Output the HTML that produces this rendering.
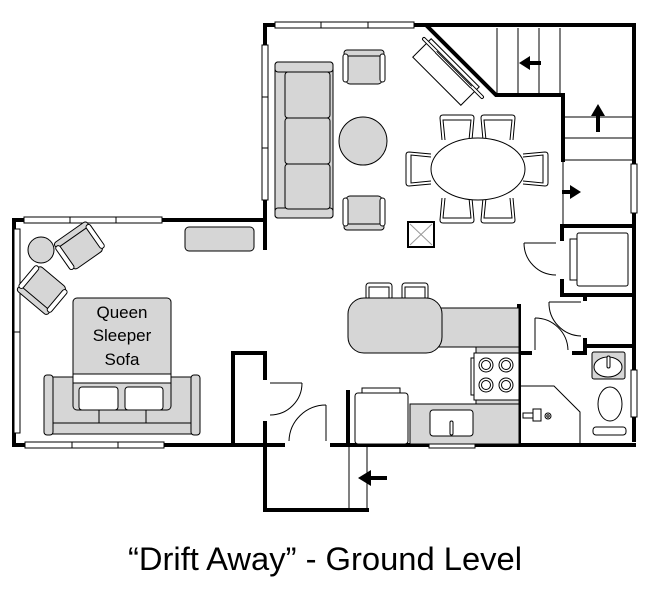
<!DOCTYPE html>
<html><head><meta charset="utf-8"><style>
html,body{margin:0;padding:0;background:#fff;}
svg{display:block;}
</style></head><body>
<svg width="650" height="598" viewBox="0 0 650 598" xmlns="http://www.w3.org/2000/svg">
<defs>
<g id="chair">
 <rect x="-18" y="-14" width="36" height="30" rx="4" fill="#d6d6d6" stroke="#000" stroke-width="1"/>
 <rect x="-20" y="-18" width="40" height="6" rx="3" fill="#d6d6d6" stroke="#000" stroke-width="1"/>
 <rect x="-21" y="-14" width="5" height="28" rx="2.5" fill="#fff" stroke="#000" stroke-width="1"/>
 <rect x="16" y="-14" width="5" height="28" rx="2.5" fill="#fff" stroke="#000" stroke-width="1"/>
</g>
<g id="dchair">
 <path d="M-15,12 L-17,-10 Q-17,-13 -14,-13 L14,-13 Q17,-13 17,-10 L15,12" fill="#fff" stroke="#000" stroke-width="1"/>
 <path d="M-12,12 L-14,-8 L14,-8 L12,12" fill="none" stroke="#000" stroke-width="1"/>
</g>
</defs>

<g stroke="#000" stroke-width="1" fill="none">
 <line x1="497" y1="28" x2="497" y2="95"/>
 <line x1="518" y1="28" x2="518" y2="95"/>
 <line x1="539" y1="28" x2="539" y2="95"/>
 <line x1="560" y1="28" x2="560" y2="95"/>
 <line x1="563" y1="117" x2="634" y2="117"/>
 <line x1="563" y1="138" x2="634" y2="138"/>
 <line x1="563" y1="160" x2="634" y2="160"/>
 <line x1="563" y1="160" x2="563" y2="226"/>
 <line x1="349" y1="444" x2="349" y2="510"/>
 <line x1="367" y1="444" x2="367" y2="510"/>
 <line x1="524" y1="243" x2="556" y2="243"/>
 <path d="M524,243 A32,32 0 0 0 556,275"/>
 <line x1="549" y1="302" x2="581" y2="302"/>
 <path d="M549,302 A33,33 0 0 0 581,336"/>
 <line x1="535" y1="318" x2="535" y2="350"/>
 <path d="M535,318 A33,33 0 0 1 568,350"/>
 <line x1="270" y1="383" x2="302" y2="383"/>
 <path d="M302,383 A32,32 0 0 1 270,415"/>
 <line x1="326" y1="405" x2="326" y2="441"/>
 <path d="M326,405 A37,37 0 0 0 289,441"/>
 <path d="M521,386 L554,386 L580,412 L580,444"/>
</g>

<g fill="#000">
 <rect x="528" y="61" width="13" height="4"/><polygon points="519,63 530,56 530,70"/>
 <rect x="596" y="115" width="4" height="17"/><polygon points="598,104 591,116 605,116"/>
 <rect x="562" y="190" width="12" height="4"/><polygon points="581,192 570,185 570,199"/>
 <rect x="371" y="476" width="16" height="4"/><polygon points="358,478 371,470 371,486"/>
</g>

<g stroke="#000" stroke-width="4" fill="none" stroke-linecap="square">
 <path d="M265,248 L265,25 L634,25 L634,440"/>
 <path d="M428,27 L496,95 L563,95 L563,160"/>
 <path d="M14,445 L14,220 L265,220"/>
 <path d="M14,445 L283,445"/>
 <path d="M332,445 L634,445"/>
 <path d="M233,445 L233,353 L265,353 L265,378"/>
 <path d="M265,423 L265,510 L367,510"/>
 <path d="M348,392 L348,445"/>
 <path d="M563,226 L634,226"/>
 <path d="M562,226 L562,239"/>
 <path d="M562,281 L562,295 L634,295"/>
 <path d="M519,306 L519,445"/>
 <path d="M519,353 L530,353"/>
 <path d="M585,297 L585,299"/>
 <path d="M585,340 L585,346 L634,346"/>
 <path d="M574,353 L585,353 L585,346"/>
</g>

<g fill="#fff" stroke="#000" stroke-width="1">
 <rect x="275" y="22" width="139" height="6"/>
 <line x1="321" y1="22" x2="321" y2="28"/><line x1="368" y1="22" x2="368" y2="28"/>
 <rect x="262" y="45" width="6" height="155"/>
 <line x1="262" y1="97" x2="268" y2="97"/><line x1="262" y1="148" x2="268" y2="148"/>
 <rect x="631" y="164" width="6" height="49"/>
 <rect x="24" y="217" width="138" height="6"/>
 <line x1="70" y1="217" x2="70" y2="223"/><line x1="116" y1="217" x2="116" y2="223"/>
 <rect x="14" y="229" width="6" height="204"/>
 <line x1="14" y1="332" x2="20" y2="332"/>
 <rect x="25" y="442" width="139" height="6"/>
 <line x1="72" y1="442" x2="72" y2="448"/><line x1="118" y1="442" x2="118" y2="448"/>
 <rect x="429" y="441" width="46" height="7"/>
 <rect x="631" y="370" width="6" height="47"/>
</g>

<g stroke="#000" stroke-width="1">
 <rect x="275" y="62" width="58" height="156" rx="3" fill="#d6d6d6"/>
 <rect x="275" y="62" width="58" height="10" rx="3" fill="#d6d6d6"/>
 <rect x="275" y="208" width="58" height="10" rx="3" fill="#d6d6d6"/>
 <rect x="285" y="72" width="45" height="46" rx="3" fill="#d6d6d6"/>
 <rect x="285" y="118" width="45" height="46" rx="3" fill="#d6d6d6"/>
 <rect x="285" y="164" width="45" height="45" rx="3" fill="#d6d6d6"/>
 <ellipse cx="363" cy="141" rx="24" ry="24" fill="#d6d6d6"/>
 <rect x="185" y="227" width="69" height="24" rx="4" fill="#d6d6d6"/>
 <circle cx="41" cy="250" r="13" fill="#d6d6d6"/>
 <g transform="translate(446,72) rotate(45)">
  <rect x="-34" y="-13" width="68" height="26" fill="#fff"/>
 </g>
 <line x1="424" y1="39" x2="482" y2="97" stroke-width="4" stroke-linecap="round"/>
 <line x1="424" y1="39" x2="482" y2="97" stroke="#fff" stroke-width="2" stroke-linecap="round"/>
 <line x1="436" y1="52" x2="471" y2="87" stroke-width="3"/>
 <line x1="436" y1="52" x2="471" y2="87" stroke="#fff" stroke-width="1"/>
 <rect x="408" y="222" width="26" height="25" fill="#fff" stroke-width="2"/>
 <line x1="410" y1="224" x2="432" y2="245" stroke="#999"/>
 <line x1="432" y1="224" x2="410" y2="245" stroke="#999"/>
</g>
<use href="#chair" transform="translate(364,68)"/>
<use href="#chair" transform="translate(364,212) rotate(180)"/>
<use href="#chair" transform="translate(80,247) rotate(-35)"/>
<use href="#chair" transform="translate(43,289) rotate(-140) scale(-1,1)"/>

<use href="#dchair" transform="translate(457,128)"/>
<use href="#dchair" transform="translate(498,128)"/>
<use href="#dchair" transform="translate(457,210) rotate(180)"/>
<use href="#dchair" transform="translate(498,210) rotate(180)"/>
<use href="#dchair" transform="translate(419,169) rotate(-90)"/>
<use href="#dchair" transform="translate(535,169) rotate(90)"/>
<ellipse cx="478" cy="169" rx="47" ry="31" fill="#fff" stroke="#000" stroke-width="1"/>

<g stroke="#000" stroke-width="1">
 <rect x="44" y="377" width="156" height="57" rx="3" fill="#d6d6d6"/>
 <rect x="44" y="375" width="9" height="60" rx="3" fill="#d6d6d6"/>
 <rect x="191" y="375" width="9" height="60" rx="3" fill="#d6d6d6"/>
 <line x1="53" y1="423" x2="191" y2="423"/>
 <rect x="73" y="298" width="98" height="112" rx="4" fill="#d6d6d6"/>
 <rect x="73" y="374" width="98" height="9" fill="#fff"/>
 <rect x="79" y="387" width="39" height="23" rx="3" fill="#fff"/>
 <rect x="125" y="387" width="38" height="23" rx="3" fill="#fff"/>
 <line x1="99" y1="410" x2="99" y2="423"/><line x1="146" y1="410" x2="146" y2="423"/>
</g>
<g font-family="'Liberation Sans', sans-serif" font-size="17" text-anchor="middle" fill="#000">
 <text x="122" y="318">Queen</text>
 <text x="122" y="341">Sleeper</text>
 <text x="122" y="365">Sofa</text>
</g>

<g stroke="#000" stroke-width="1">
 <rect x="366" y="283" width="26" height="17" rx="3" fill="#fff"/>
 <rect x="402" y="283" width="26" height="17" rx="3" fill="#fff"/>
 <rect x="369" y="287" width="20" height="13" fill="#fff"/>
 <rect x="405" y="287" width="20" height="13" fill="#fff"/>
 <rect x="437" y="308" width="82" height="39" fill="#d6d6d6"/>
 <rect x="348" y="298" width="94" height="55" rx="16" fill="#d6d6d6"/>
 <rect x="476" y="347" width="43" height="6" fill="#d6d6d6"/>
 <rect x="476" y="395" width="43" height="9" fill="#d6d6d6"/>
 <rect x="474" y="353" width="45" height="47" fill="#fff"/>
 <rect x="471" y="358" width="3" height="37" fill="#fff"/>
 <circle cx="486" cy="365" r="7" fill="#fff"/><circle cx="486" cy="365" r="4.5" fill="none"/>
 <circle cx="506" cy="365" r="7" fill="#fff"/><circle cx="506" cy="365" r="4.5" fill="none"/>
 <circle cx="486" cy="385" r="7" fill="#fff"/><circle cx="486" cy="385" r="4.5" fill="none"/>
 <circle cx="506" cy="385" r="7" fill="#fff"/><circle cx="506" cy="385" r="4.5" fill="none"/>
 <rect x="410" y="404" width="109" height="40" fill="#d6d6d6"/>
 <rect x="430" y="410" width="43" height="26" rx="3" fill="#fff"/>
 <rect x="450" y="421" width="3" height="14" rx="1.5" fill="#fff"/>
 <rect x="362" y="388" width="38" height="6" fill="#fff"/>
 <rect x="355" y="393" width="53" height="51" rx="3" fill="#fff"/>
 <rect x="577" y="233" width="51" height="53" rx="2" fill="#fff"/>
 <rect x="570" y="239" width="7" height="41" fill="#fff"/>
 <rect x="592" y="352" width="33" height="27" rx="2" fill="#d6d6d6"/>
 <ellipse cx="608" cy="367" rx="14" ry="10" fill="#fff"/>
 <rect x="607" y="356" width="3" height="12" rx="1.5" fill="#fff"/>
 <ellipse cx="610" cy="404" rx="12" ry="17" fill="#fff"/>
 <rect x="593" y="427" width="33" height="8" rx="3" fill="#fff"/>
 <rect x="523" y="413" width="12" height="5" fill="#fff"/>
 <rect x="533" y="409" width="8" height="12" fill="#fff"/>
 <circle cx="548" cy="416" r="3" fill="#fff"/><circle cx="548" cy="416" r="1.2" fill="none"/>
</g>

<text x="128" y="570" font-family="'Liberation Sans', sans-serif" font-size="32" textLength="394" lengthAdjust="spacingAndGlyphs" fill="#000">“Drift Away”  - Ground Level</text>
</svg>
</body></html>
